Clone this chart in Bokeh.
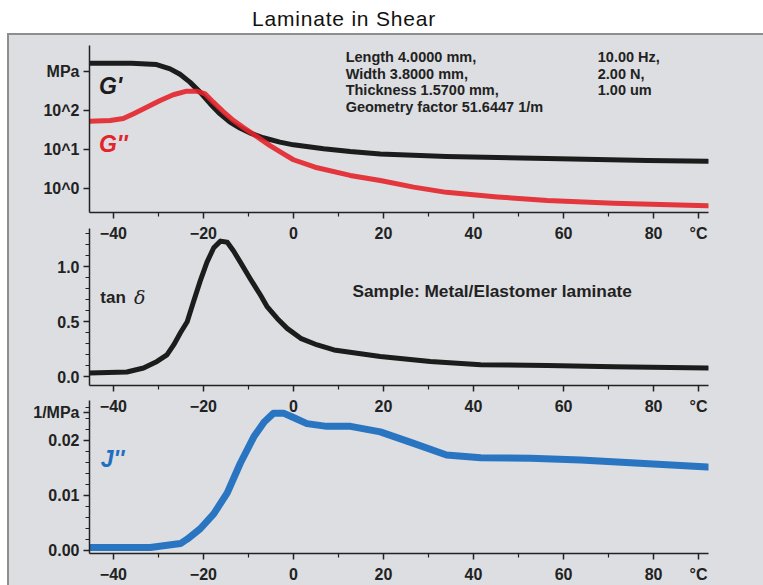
from bokeh.plotting import figure
from bokeh.models import Range1d, FixedTicker, Label, Div, Spacer, NumeralTickFormatter
from bokeh.layouts import column, row
from bokeh.embed import file_html
from bokeh.resources import INLINE

# ---------------- data ----------------
t_gp = [-45.3, -36, -30.4, -27.4, -25.2, -23, -20.7, -18.5, -16.3, -14.1, -11.9, -9.6, -6.7, -3, 0,
        6.7, 12.6, 19.3, 34, 56.4, 78.6, 92]
g_prime = [1585, 1585, 1479, 1148, 832, 525, 288, 148, 81.3, 50.1, 35.5, 26.3, 20.0, 15.5, 13.2,
           10.5, 8.9, 7.76, 6.61, 5.89, 5.25, 5.01]

t_gpp = [-45.3, -40.7, -37.8, -35.6, -32.6, -29.6, -26.7, -23.7, -21.5, -19.6, -17.8, -15.6, -13.3,
         -11.1, -8.1, -5.2, -2.2, 0, 4.8, 12.6, 19.3, 26.7, 34, 45.3, 56.4, 71.1, 92]
g_dprime = [52.5, 55, 61.7, 81.3, 120, 178, 251, 309, 309, 263, 162, 93.3, 55,
            36.3, 21.4, 12.6, 7.76, 5.5, 3.55, 2.19, 1.62, 1.10, 0.81, 0.62, 0.50, 0.43, 0.37]

t_tan = [-45.3, -37, -33.3, -30.3, -28.1, -26.6, -25.1, -23.6, -22.2, -20.7, -19.2, -17.7, -16.2,
         -14.7, -13.3, -11.8, -9.6, -7.3, -5.9, -3.6, -1.4, 1.6, 5.3, 9, 19.3, 30.4, 41.6, 56.4, 71.1, 92]
tan_delta = [0.036, 0.045, 0.081, 0.141, 0.20, 0.29, 0.40, 0.50, 0.68, 0.87, 1.04, 1.17, 1.23,
             1.22, 1.14, 1.04, 0.89, 0.74, 0.64, 0.53, 0.44, 0.35, 0.29, 0.245, 0.186, 0.141, 0.11,
             0.105, 0.093, 0.081]

t_j = [-45.3, -31.8, -25.1, -23.6, -20.7, -17.7, -14.7, -11.8, -8.8, -6.5, -4.4, -2.2, 0, 3, 7.4,
       12.7, 19.3, 26.7, 34, 41.6, 52.7, 63.8, 74.9, 92]
j_dprime = [0.0005, 0.0005, 0.0012, 0.002, 0.0039, 0.0066, 0.0104, 0.0158, 0.0206, 0.0233, 0.0249,
            0.0249, 0.0241, 0.023, 0.0225, 0.0225, 0.0215, 0.0194, 0.0173, 0.0168, 0.0167, 0.0164,
            0.0159, 0.0151]

x_major = [-40, -20, 0, 20, 40, 60, 80, 90]
x_minor = [-30, -10, 10, 30, 50, 70]
x_labels = {90: "°C"}

g_ticks = [1, 10, 100, 1000]
g_labels = {1: "10^0", 10: "10^1", 100: "10^2", 1000: "MPa"}

tan_ticks = [0, 0.5, 1.0]
tan_minor = [0.1, 0.2, 0.3, 0.4, 0.6, 0.7, 0.8, 0.9, 1.1, 1.2, 1.3]

j_ticks = [0, 0.01, 0.02, 0.025]
j_minor = [0.002, 0.004, 0.006, 0.008, 0.012, 0.014, 0.016, 0.018, 0.022, 0.024, 0.026]
j_labels = {0.025: "1/MPa"}

info_left = ["Length 4.0000 mm,", "Width 3.8000 mm,", "Thickness 1.5700 mm,", "Geometry factor 51.6447 1/m"]
info_right = ["10.00 Hz,", "2.00 N,", "1.00 um"]
info_y = [2290, 871, 324, 120]

# ---------------- style ----------------
BG = "#dcdee1"
LINE = "#8e8e8e"
INK = "#222222"
FONT = "Liberation Sans"
BLACK = "#1c1c1c"
RED = "#e3242b"
BLUE = "#1f6fc0"

X_RANGE = (-45.3, 92.2)


def make_fig(height, top, bottom, y_range, y_type="linear", margin=0):
    p = figure(width=754, height=height, x_range=Range1d(*X_RANGE), y_range=y_range,
               y_axis_type=y_type, output_backend="svg", toolbar_location=None,
               min_border_left=80, min_border_right=55, min_border_top=top, min_border_bottom=bottom,
               background_fill_color=None, border_fill_color=None, outline_line_color=None,
               margin=margin)
    p.xgrid.visible = False
    p.ygrid.visible = False
    for ax in [p.xaxis[0], p.yaxis[0]]:
        ax.axis_line_color = INK
        ax.axis_line_width = 1.5
        ax.major_tick_line_color = INK
        ax.minor_tick_line_color = INK
        ax.major_tick_line_width = 1.5
        ax.minor_tick_line_width = 1.2
        ax.major_tick_in = 0
        ax.minor_tick_in = 0
        ax.major_tick_out = 6
        ax.minor_tick_out = 4
        ax.major_label_text_font = FONT
        ax.major_label_text_font_style = "bold"
        ax.major_label_text_font_size = "16px"
        ax.major_label_text_color = INK
    p.xaxis[0].ticker = FixedTicker(ticks=x_major, minor_ticks=x_minor)
    p.xaxis[0].major_label_overrides = x_labels
    p.xaxis[0].major_label_standoff = 6
    p.yaxis[0].major_label_standoff = 4
    return p


def add_label(p, x, y, text, size, color=INK, style="bold", font=FONT):
    p.add_layout(Label(x=x, y=y, text=text, text_font=font, text_font_size=size,
                       text_font_style=style, text_color=color, text_baseline="middle"))


# ---- panel 1: G', G'' ----
p1 = make_fig(211, 10, 34, Range1d(0.248, 4520), y_type="log")
p1.yaxis[0].ticker = FixedTicker(ticks=g_ticks, minor_ticks=[])
p1.yaxis[0].major_label_overrides = g_labels
p1.line(t_gp, g_prime, line_width=5, color=BLACK, line_cap="round", line_join="round")
p1.line(t_gpp, g_dprime, line_width=5, color=RED, line_alpha=0.9, line_cap="round", line_join="round")
add_label(p1, -43.2, 407, "G'", "23px", BLACK, "bold italic")
add_label(p1, -43.2, 13.5, "G''", "23px", RED, "bold italic")
for txt, yy in zip(info_left, info_y):
    add_label(p1, 11.6, yy, txt, "14.5px")
for txt, yy in zip(info_right, info_y):
    add_label(p1, 67.6, yy, txt, "14.5px")

# ---- panel 2: tan delta ----
p2 = make_fig(197, 6, 34, Range1d(-0.077, 1.344), margin=(-24, 0, 0, 0))
p2.yaxis[0].ticker = FixedTicker(ticks=tan_ticks, minor_ticks=tan_minor)
p2.yaxis[0].formatter = NumeralTickFormatter(format="0.0")
p2.line(t_tan, tan_delta, line_width=5, color=BLACK, line_cap="round", line_join="round")
add_label(p2, -42.9, 0.72, "tan", "17px", INK, "bold")
add_label(p2, -35.4, 0.72, "δ", "19px", INK, "italic", "DejaVu Serif")
add_label(p2, 13.1, 0.78, "Sample: Metal/Elastomer laminate", "17.3px")

# ---- panel 3: J'' ----
p3 = make_fig(191, 6, 30, Range1d(-0.0006, 0.0272), margin=(-25, 0, 0, 0))
p3.yaxis[0].ticker = FixedTicker(ticks=j_ticks, minor_ticks=j_minor)
p3.yaxis[0].formatter = NumeralTickFormatter(format="0.00")
p3.yaxis[0].major_label_overrides = j_labels
p3.line(t_j, j_dprime, line_width=7, color=BLUE, line_alpha=0.95, line_cap="round", line_join="round")
add_label(p3, -42.8, 0.0165, "J''", "23px", BLUE, "bold italic")

# ---------------- layout ----------------
title = Div(text='<div style="width:688px;text-align:center;font-family:\'Liberation Sans\';'
                 'font-size:21px;letter-spacing:0.8px;line-height:21px;padding-top:8px;color:#111">'
                 'Laminate in Shear</div>', width=763, height=33, margin=0)

panels = column(p1, p2, p3, styles={"background-color": BG}, margin=0)
inner = column(Spacer(width=756, height=2, margin=0, styles={"background-color": LINE}),
               row(Spacer(width=2, height=550, margin=0, styles={"background-color": LINE}), panels, margin=0),
               margin=0)
page = column(title, row(Spacer(width=7, height=552, margin=0), inner, margin=0), margin=0)

with open("out.html", "w") as f:
    f.write(file_html(page, INLINE))
